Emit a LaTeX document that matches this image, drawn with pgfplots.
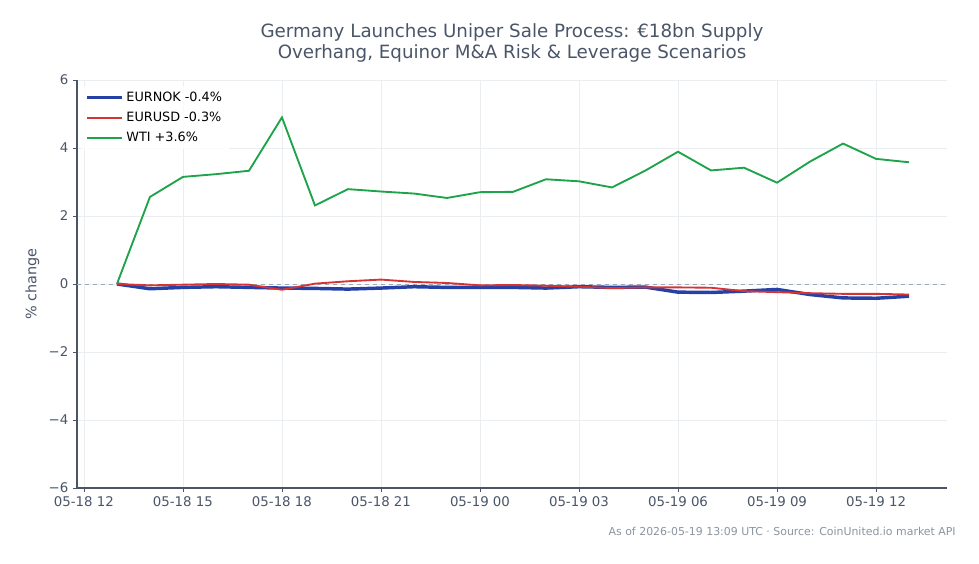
\documentclass[border=0pt]{standalone}
\usepackage{pgfplots}
\pgfplotsset{compat=1.18}
\usepackage{fontspec}
\setmainfont{DejaVu Sans}
\definecolor{txt}{HTML}{4A5568}
\definecolor{axc}{HTML}{4A5568}
\definecolor{nok}{HTML}{2541A6}
\definecolor{usd}{HTML}{D63333}
\definecolor{wti}{HTML}{1FA34A}
\definecolor{gridc}{HTML}{EBEEF1}
\definecolor{zeroc}{HTML}{9AA8BC}
\definecolor{foot}{HTML}{8A94A0}
\begin{document}
\begin{tikzpicture}
\begin{axis}[
  at={(0,0)}, anchor=south west,
  scale only axis, width=652.5pt, height=306pt,
  xmin=-0.21, xmax=26.15, ymin=-6, ymax=6,
  axis lines*=left,
  axis line style={axc, line width=0.8pt},
  xtick={0,3,6,9,12,15,18,21,24},
  xticklabels={05-18 12,05-18 15,05-18 18,05-18 21,05-19 00,05-19 03,05-19 06,05-19 09,05-19 12},
  ytick={-6,-4,-2,0,2,4,6},
  yticklabels={−6,−4,−2,0,2,4,6},
  tick align=outside,
  major tick length=3pt,
  tick style={axc, line width=0.6pt},
  ticklabel style={font=\fontsize{10pt}{11pt}\selectfont, text=txt},
  grid=major,
  grid style={gridc, line width=0.5pt},
  ylabel={\% change},
  ylabel style={font=\fontsize{10.8pt}{12pt}\selectfont, text=txt},
  title style={font=\fontsize{13.7pt}{15.8pt}\selectfont, text=txt, align=center, yshift=4pt},
  title={Germany Launches Uniper Sale Process: €18bn Supply\\Overhang, Equinor M\&A Risk \& Leverage Scenarios},
  legend style={at={(0.005,0.985)}, anchor=north west, draw=none, fill=white, fill opacity=0.8, text opacity=1,
    font=\fontsize{9.6pt}{11pt}\selectfont, row sep=2.5pt},
  legend cell align=left,
  legend image code/.code={\draw[#1] (0pt,0pt) -- (22pt,0pt); \path (0pt,0pt) -- (26pt,0pt);},
]
\addplot[zeroc, dashed, line width=0.7pt, forget plot] coordinates {(-0.21,0) (26.15,0)};
\addplot[nok, line width=2.6pt] coordinates {
(1,0) (2,-0.14) (3,-0.1) (4,-0.08) (5,-0.1) (6,-0.12) (7,-0.13) (8,-0.15) (9,-0.12) (10,-0.08)
(11,-0.1) (12,-0.1) (13,-0.1) (14,-0.12) (15,-0.08) (16,-0.1) (17,-0.09) (18,-0.24) (19,-0.25) (20,-0.21)
(21,-0.16) (22,-0.31) (23,-0.41) (24,-0.42) (25,-0.36)};
\addlegendentry{EURNOK -0.4\%}
\addplot[usd, line width=1.4pt] coordinates {
(1,0) (2,-0.04) (3,-0.02) (4,0.0) (5,-0.02) (6,-0.17) (7,0.01) (8,0.08) (9,0.13) (10,0.06)
(11,0.03) (12,-0.04) (13,-0.03) (14,-0.05) (15,-0.08) (16,-0.12) (17,-0.1) (18,-0.1) (19,-0.11) (20,-0.21)
(21,-0.24) (22,-0.27) (23,-0.29) (24,-0.29) (25,-0.31)};
\addlegendentry{EURUSD -0.3\%}
\addplot[wti, line width=1.4pt] coordinates {
(1,0) (2,2.56) (3,3.15) (4,3.23) (5,3.33) (6,4.9) (7,2.31) (8,2.79) (9,2.72) (10,2.66)
(11,2.53) (12,2.7) (13,2.71) (14,3.08) (15,3.02) (16,2.84) (17,3.33) (18,3.89) (19,3.34) (20,3.42)
(21,2.98) (22,3.6) (23,4.13) (24,3.68) (25,3.58)};
\addlegendentry{WTI +3.6\%}
\end{axis}
\node[anchor=base east, text=foot, font=\fontsize{8.2pt}{9pt}\selectfont, inner sep=0pt] at (659.25pt,-36pt) {As of 2026-05-19 13:09 UTC · Source: CoinUnited.io market API};
\path[use as bounding box] (-57.75pt,-57pt) rectangle (676.5pt,366pt);
\end{tikzpicture}
\end{document}
